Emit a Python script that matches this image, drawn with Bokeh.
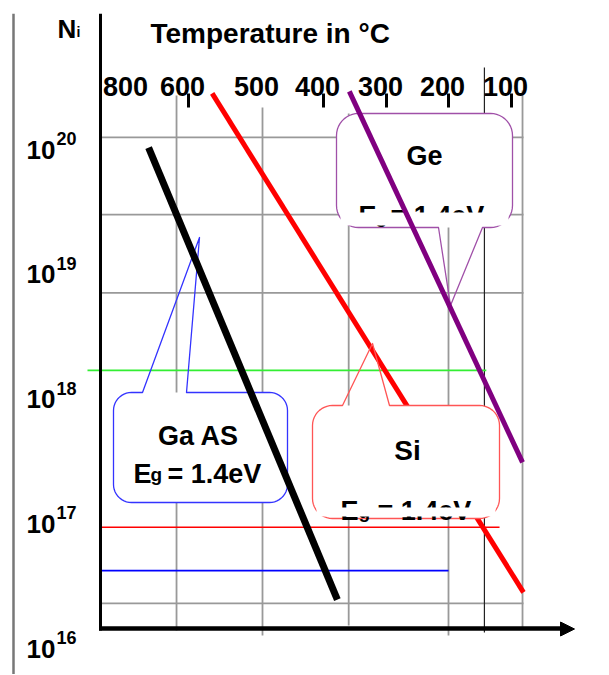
import numpy as np
from bokeh.plotting import figure
from bokeh.models import Range1d
from bokeh.core.properties import value
from bokeh.embed import file_html
from bokeh.resources import INLINE

# ---------------- data ----------------
temp_labels = [800, 600, 500, 400, 300, 200, 100]   # top axis labels, deg C
temp_marks = [600, 400, 300, 200, 100]              # short tick marks under labels
decades = [16, 17, 18, 19, 20]                      # n_i labels 10^k

gaas_T = [740, 378]
gaas_n = [8.6e19, 2.05e16]
si_T = [568, 81]
si_n = [2.34e20, 2.34e16]
ge_T = [359, 82.5]
ge_n = [2.43e20, 2.58e17]

grid_T = [642, 500, 360, 200, 82.5]          # vertical grid lines
grid_n = [1.04e20, 2.5e19, 5.9e18, 1.91e16]   # horizontal grid lines
marker_T = 143                                # thin dark vertical line
green_n = 1.41e18
red_n = 7.8e16
blue_n = 3.5e16
green_end_T = 140
red_end_T = 119
blue_end_T = 200

# ---------------- layout / scales ----------------
FONT = value("Liberation Sans")
W, H = 608, 674
TOP = 13
T_ANCHOR = [800, 600, 500, 400, 300, 200, 100, 0]
X_ANCHOR = [131, 188, 262, 323, 386, 448, 511, 574]


def tx(T):
    return np.interp(-np.asarray(T, dtype=float), -np.asarray(T_ANCHOR, dtype=float), X_ANCHOR)


PX_PER_DEC = 124.75
Y_1E16 = 638


def ny(y):
    return 10 ** (16 + (Y_1E16 - np.asarray(y, dtype=float)) / PX_PER_DEC)


AX_X = 100      # y axis position
AX_Y = 628      # x axis position
GRID_R = 523

p = figure(width=W, height=H, output_backend="svg", toolbar_location=None,
           x_range=Range1d(0, W), y_range=Range1d(float(ny(H)), float(ny(TOP))),
           y_axis_type="log", x_axis_location=None, y_axis_location=None,
           min_border_left=0, min_border_right=0, min_border_top=TOP, min_border_bottom=0)
p.outline_line_color = None
p.grid.visible = False
p.background_fill_color = "white"
p.border_fill_color = "white"

# left page border line
p.segment(x0=[13], x1=[13], y0=[float(ny(TOP))], y1=[float(ny(690))], line_color="#777777", line_width=2.5)

# gray grid
v_top = [95, 107, 113, 113, 90]
v_bot = [630, 635, 625, 635, 628]
p.segment(x0=tx(grid_T), x1=tx(grid_T), y0=ny(v_top), y1=ny(v_bot), line_color="#999999", line_width=1.8)
p.segment(x0=[AX_X] * len(grid_n), x1=[GRID_R] * len(grid_n), y0=grid_n, y1=grid_n,
          line_color="#999999", line_width=1.8)
p.segment(x0=tx([marker_T]), x1=tx([marker_T]), y0=ny([67]), y1=ny([632]), line_color="#222222", line_width=1.2)

# coloured levels
p.segment(x0=[87], x1=tx([green_end_T]), y0=[green_n], y1=[green_n], line_color="#33ee33", line_width=1.6)
p.segment(x0=[AX_X], x1=tx([red_end_T]), y0=[red_n], y1=[red_n], line_color="#ff0000", line_width=1.6)
p.segment(x0=[AX_X], x1=tx([blue_end_T]), y0=[blue_n], y1=[blue_n], line_color="#0000ff", line_width=1.6)

# Si line (under its callout)
p.line(tx(si_T), si_n, line_color="#ff0000", line_width=5)


def box_path(l, t, r, b, rad, edge=None, bx1=None, bx2=None, tip=None, n=12):
    xs, ys = [], []

    def arc(cx, cy, a0, a1):
        a = np.radians(np.linspace(a0, a1, n))
        xs.extend(list(cx + rad * np.cos(a)))
        ys.extend(list(cy + rad * np.sin(a)))

    arc(l + rad, t + rad, 180, 270)
    if edge == "top":
        xs.extend([bx1, tip[0], bx2]); ys.extend([t, tip[1], t])
    arc(r - rad, t + rad, 270, 360)
    arc(r - rad, b - rad, 0, 90)
    if edge == "bottom":
        xs.extend([bx2, tip[0], bx1]); ys.extend([b, tip[1], b])
    arc(l + rad, b - rad, 90, 180)
    xs.append(xs[0]); ys.append(ys[0])
    return xs, list(ny(ys))


def callout(l, t, r, b, rad, edge, bx1, bx2, tip, color):
    fx, fy = box_path(l, t, r, b, rad)
    p.patch(fx, fy, fill_color="white", line_color=None)
    ox, oy = box_path(l, t, r, b, rad, edge, bx1, bx2, tip)
    p.line(ox, oy, line_color=color, line_width=1.3, line_join="round")


def text(x, y, s, size, align="left", style="bold"):
    p.text(x=[x], y=[float(ny(y))], text=[s], text_font=FONT, text_font_size=size,
           text_font_style=style, text_align=align, text_baseline="alphabetic", text_color="black")


def eg_label(xe, xg, xeq, base):
    # E with subscript g (the g sits low, its descender reaching the E's baseline)
    text(xe, base, "E", "27px")
    text(xg, base + 1, "g", "19px")
    text(xeq, base, "= 1.4eV", "27px")


# Si callout
callout(312, 405, 499, 518, 20, "top", 342, 389, (372, 343), "#ff5555")
text(407, 450, "Si", "28px", "center")
eg_label(340, 358, 377, 510)
p.quad(left=[316], right=[495], top=[float(ny(507))], bottom=[float(ny(516))], fill_color="white", line_color=None)

# Ge callout
callout(336, 113, 512, 227, 22, "bottom", 438, 482, (450, 305), "#a050a8")
text(424, 155, "Ge", "27px", "center")
eg_label(358, 375, 390, 215)
p.quad(left=[340], right=[508], top=[float(ny(212))], bottom=[float(ny(225))], fill_color="white", line_color=None)

# GaAs callout
callout(113, 392, 287, 502, 18, "top", 142, 186, (199, 237), "#3333ff")
text(198, 435, "Ga AS", "27px", "center")
eg_label(133, 150, 167, 473)

# Ge and GaAs lines on top
p.line(tx(ge_T), ge_n, line_color="#800080", line_width=5)
p.line(tx(gaas_T), gaas_n, line_color="black", line_width=7)

# axes
p.segment(x0=[AX_X], x1=[AX_X], y0=[float(ny(TOP))], y1=[float(ny(630))], line_color="black", line_width=3)
p.segment(x0=[AX_X - 1.5], x1=[562], y0=[float(ny(AX_Y))], y1=[float(ny(AX_Y))], line_color="black", line_width=4.5)
p.patch([560, 574, 560], list(ny([621.5, 628.5, 635.5])), fill_color="black", line_color="black", line_width=1)

# top ticks and labels
p.segment(x0=tx(temp_marks), x1=tx(temp_marks), y0=ny([93] * len(temp_marks)), y1=ny([107] * len(temp_marks)),
          line_color="black", line_width=3)
p.text(x=tx(temp_labels) - 6, y=ny([85.5] * len(temp_labels)), text=[str(t) for t in temp_labels],
       text_font=FONT, text_font_size="27px", text_font_style="bold", text_align="center",
       text_baseline="alphabetic", text_color="black")

# n_i labels 10^k
centers = [Y_1E16 - (k - 16) * PX_PER_DEC for k in decades]
p.text(x=[55] * len(decades), y=ny([c + 10 for c in centers]), text=["10"] * len(decades),
       text_font=FONT, text_font_size="26px", text_font_style="bold", text_align="right",
       text_baseline="alphabetic", text_color="black")
p.text(x=[56] * len(decades), y=ny([c - 1 for c in centers]), text=[str(k) for k in decades],
       text_font=FONT, text_font_size="18px", text_font_style="bold", text_align="left",
       text_baseline="alphabetic", text_color="black")

# clipped titles at the top
text(66.5, 28, "N", "26px", "center")
text(76, 31, "i", "14px")
text(150, 33, "Temperature in °C", "28px")

open("out.html", "w").write(file_html(p, INLINE))
